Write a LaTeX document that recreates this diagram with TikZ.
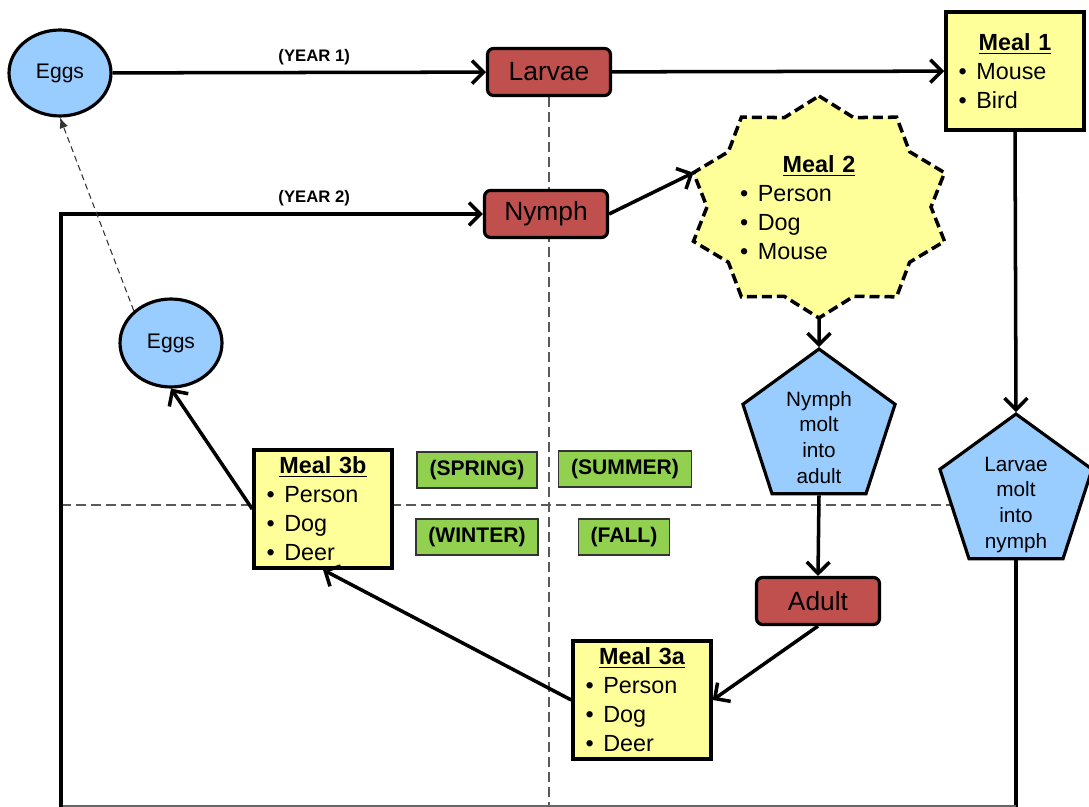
\documentclass[tikz,border=0pt]{standalone}
\usepackage{fontspec}
\setmainfont{Liberation Sans}
\usepackage{tikz}
\usetikzlibrary{arrows.meta}
\usetikzlibrary{shapes.geometric}
\usetikzlibrary{backgrounds}
\tikzset{>={Straight Barb[length=6.5pt,width=13pt]}}
\definecolor{tickred}{HTML}{C0504D}
\definecolor{tickblue}{HTML}{99CCFF}
\definecolor{tickyellow}{HTML}{FFFF99}
\definecolor{tickgreen}{HTML}{92D050}
\newcommand{\bul}{\textbullet\hspace{5.5pt}}
\newcommand{\mealhead}[1]{\makebox[\hsize]{\underline{\textbf{#1}}}}
\newcommand{\molttext}[1]{\raisebox{-9pt}[0pt][0pt]{\begin{tabular}{@{}c@{}}#1\end{tabular}}}

\begin{document}
\begin{tikzpicture}[x=0.02cm,y=-0.02cm,
	flow/.style={->,line width=2pt},
	stage/.style={draw,line width=1.8pt,fill=tickred,rounded corners=0.12cm,minimum width=2.46cm,minimum height=0.94cm,font=\fontsize{15}{18}\selectfont},
	eggs/.style={ellipse,draw,line width=1.8pt,fill=tickblue,minimum width=2.04cm,minimum height=1.72cm,font=\fontsize{12}{14}\selectfont},
	meal/.style={draw,line width=2pt,fill=tickyellow,minimum width=2.76cm,minimum height=2.36cm,inner xsep=0.25cm,text width=2.26cm,align=left,font=\fontsize{13.3}{16.5}\selectfont},
	molt/.style={regular polygon,regular polygon sides=5,draw,line width=1.8pt,fill=tickblue,minimum size=3.2cm,inner sep=0pt,font=\fontsize{11.8}{14.6}\selectfont},
	season/.style={draw=black!80,line width=0.7pt,fill=tickgreen,inner xsep=0.25cm,minimum height=0.72cm,font=\fontsize{12}{14}\selectfont\bfseries},
	quarter/.style={black!65,line width=0.9pt,dash pattern=on 0.2cm off 0.1cm},
	year/.style={above,inner sep=3.5pt,font=\fontsize{9.5}{11}\selectfont\bfseries}]
	\useasboundingbox (0,0) rectangle (1089,807);

	% year 1
	\node[eggs] (eggs1) at (60,73) {Eggs};
	\node[stage] (larvae) at (549,72) {Larvae};
	\node[meal,minimum width=2.74cm] (meal1) at (1015,71) {\mealhead{Meal 1}\\\bul Mouse\\\bul Bird};
	\node[molt] (lmolt) at (1016,494) {\molttext{Larvae\\molt\\into\\nymph}};

	% year 2
	\node[stage] (nymph) at (546,214) {Nymph};
	\coordinate (m2) at (819,207);
	\draw[line width=2pt,dash pattern=on 0.2cm off 0.1cm,fill=tickyellow,shift={(m2)}] (270:132 and 111)
		\foreach \a in {270,306,...,594} {-- ({\a+18}:112 and 94) -- ({\a+36}:132 and 111)} -- cycle;
	\path (m2) +(198:132 and 111) coordinate (meal2 in) +(90:132 and 111) coordinate (meal2 out);
	\node[text width=3.16cm,align=left,font=\fontsize{13.3}{16.5}\selectfont] (meal2) at (819,208) {\mealhead{Meal 2}\\\bul Person\\\bul Dog\\\bul Mouse};
	\node[molt] (nmolt) at (819,429) {\molttext{Nymph\\molt\\into\\adult}};
	\node[stage] (adult) at (818,601) {Adult};
	\node[meal] (meal3a) at (642,700) {\mealhead{Meal 3a}\\\bul Person\\\bul Dog\\\bul Deer};
	\node[meal] (meal3b) at (323,509) {\mealhead{Meal 3b}\\\bul Person\\\bul Dog\\\bul Deer};
	\node[eggs,minimum height=1.76cm] (eggs2) at (171,343) {Eggs};

	% seasons
	\node[season] (spring) at (477,470) {(SPRING)};
	\node[season] (summer) at (625,469) {(SUMMER)};
	\node[season] (winter) at (477,537) {(WINTER)};
	\node[season] (fall) at (624,537) {(FALL)};

	\begin{scope}[on background layer]
		\draw[quarter] (larvae.south) -- (larvae.south |- 0,807);
		\draw[quarter] (61,505) -- (lmolt.center |- 0,505);
	\end{scope}

	\coordinate (loop left) at (61,807);
	\coordinate (loop right) at (lmolt.south |- 0,807);
	\draw[flow] (eggs1) -- (larvae) node[year,pos=.54] {(YEAR 1)};
	\draw[flow] (larvae) -- (meal1);
	\draw[flow] (meal1.south) -- (lmolt.north);
	\draw[line width=2pt] (lmolt.south) -- (loop right);
	\draw[black!60,line width=0.8pt] ([yshift=0.02cm]loop left) -- ([yshift=0.02cm]loop right);
	\draw[flow] (loop left) |- (nymph.west) node[year,pos=.8] {(YEAR 2)};
	\draw[flow] (nymph.east) -- (meal2 in);
	\draw[flow] (meal2 out) -- (nmolt.north);
	\draw[flow] (nmolt.south) -- (adult.north);
	\draw[flow] (adult.south) -- (meal3a.east);
	\draw[flow] (meal3a.west) -- (meal3b.south);
	\draw[flow] (meal3b.west) -- (eggs2.south);
	\draw[-{Latex[length=6pt,width=5pt]},black!80,line width=0.6pt,dash pattern=on 0.12cm off 0.08cm] (eggs2.north west) -- (eggs1.south);
\end{tikzpicture}
\end{document}
